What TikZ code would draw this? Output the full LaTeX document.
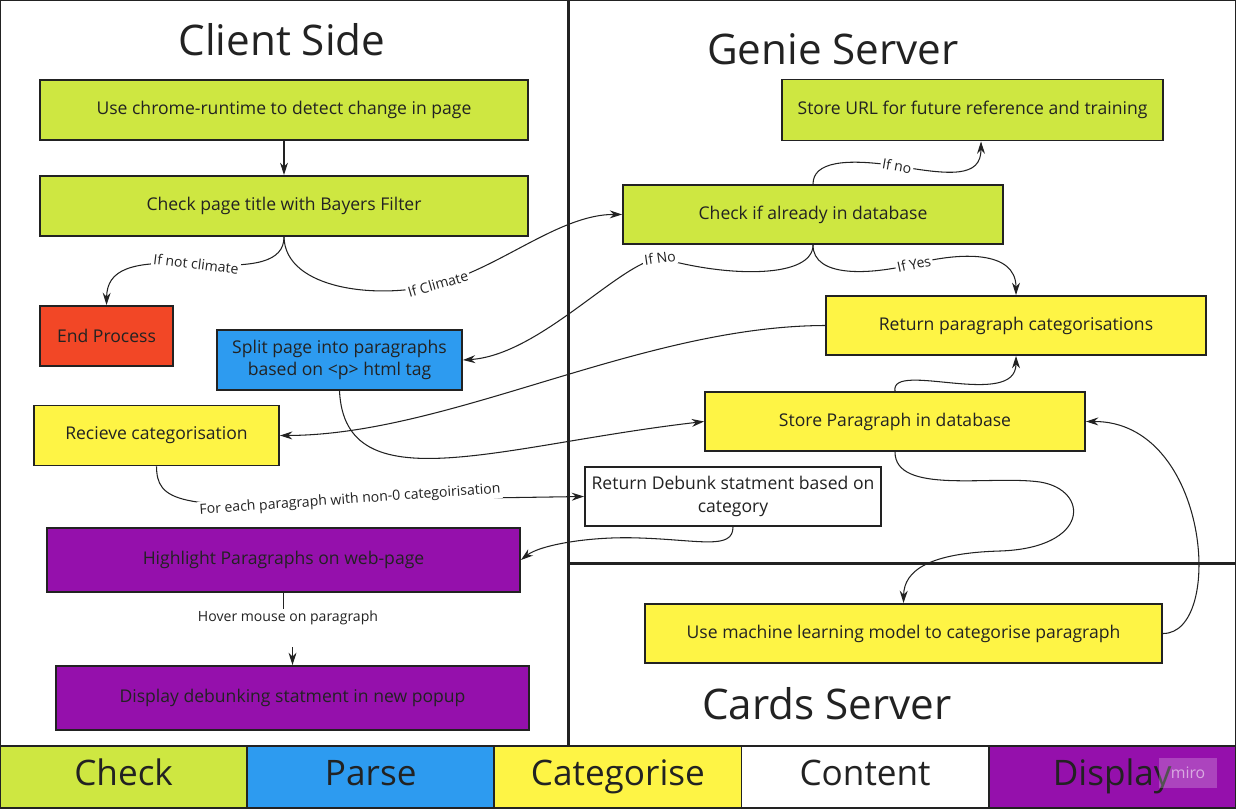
\documentclass[tikz,border=0pt]{standalone}
\usepackage{fontspec}
\setmainfont{Open Sans}
\usepackage{tikz}
\usetikzlibrary{positioning}
\usetikzlibrary{arrows.meta}

\definecolor{checkgreen}{HTML}{CEE741}
\definecolor{parseblue}{HTML}{2D9BF0}
\definecolor{catyellow}{HTML}{FEF445}
\definecolor{endred}{HTML}{F24726}
\definecolor{showpurple}{HTML}{9510AC}
\definecolor{inkdark}{HTML}{222222}

\begin{document}
\begin{tikzpicture}[
    x=0.02cm, y=-0.02cm,
    box/.style={draw=inkdark,line width=1.1pt,align=center,text=inkdark,
      minimum height=1.2cm,inner sep=2pt,font=\fontsize{10}{13}\selectfont},
    checkbox/.style={box,fill=checkgreen},
    parsebox/.style={box,fill=parseblue},
    catbox/.style={box,fill=catyellow},
    contentbox/.style={box,fill=white},
    showbox/.style={box,fill=showpurple},
    endbox/.style={box,fill=endred},
    legend/.style={draw=inkdark,line width=1.1pt,outer sep=0pt,text=inkdark,
      text height=14.5pt,text depth=4.5pt,
      minimum width=4.944cm,minimum height=1.24cm,font=\fontsize{20}{24}\selectfont},
    title/.style={text=inkdark,font=\fontsize{24}{28}\selectfont},
    lbl/.style={fill=white,inner sep=1pt,text=inkdark,font=\fontsize{8}{10}\selectfont},
    frame/.style={draw=inkdark,line width=1.7pt},
    arr/.style={-{Stealth[length=7pt,width=4.5pt]},line width=0.6pt,draw=inkdark}
    ]
    \useasboundingbox (0,0) rectangle (1236,808);

    % panels
    \draw[frame] (0,0) rectangle (1236,746);
    \draw[frame] (568,0) -- (568,746);
    \draw[frame] (568,563) -- (1236,563);

    \node[title] (client) at (282,40) {Client Side};
    \node[title] (genie) at (833,49) {Genie Server};
    \node[title] (cards) at (827,704) {Cards Server};

    % client side
    \node[checkbox, minimum width=9.76cm] (chrome) at (284,110) {Use chrome-runtime to detect change in page};
    \node[checkbox, minimum width=9.76cm, below=0.68cm of chrome] (bayes) {Check page title with Bayers Filter};
    \node[endbox, minimum width=2.66cm] (endp) at (106.5,336) {End Process};
    \node[parsebox, minimum width=4.9cm] (split) at (339.5,360) {Split page into paragraphs\\based on <p> html tag};
    \node[catbox, minimum width=4.9cm] (recv) at (156.5,435.5) {Recieve categorisation};
    \node[showbox, minimum width=9.46cm, minimum height=1.28cm] (hl) at (283.5,560) {Highlight Paragraphs on web-page};
    \node[showbox, minimum width=9.46cm, minimum height=1.28cm] (disp) at (292.5,698) {Display debunking statment in new popup};

    % genie server
    \node[checkbox, minimum width=7.62cm, minimum height=1.22cm] (url) at (972.5,110) {Store URL for future reference and training};
    \node[checkbox, minimum width=7.6cm, minimum height=1.18cm] (chkdb) at (813,214.5) {Check if already in database};
    \node[catbox, minimum width=7.6cm, minimum height=1.18cm] (ret) at (1016,325.5) {Return paragraph categorisations};
    \node[catbox, minimum width=7.6cm, minimum height=1.18cm] (para) at (895,421.5) {Store Paragraph in database};
    \node[contentbox, minimum width=5.92cm, minimum height=1.18cm] (debunk) at (733,496.5) {Return Debunk statment based on\\category};

    % cards server
    \node[catbox, minimum width=10.34cm, minimum height=1.18cm] (ml) at (903.5,633.5) {Use machine learning model to categorise paragraph};

    % legend
    \node[legend, fill=checkgreen] (lgcheck) at (123.6,777) {Check};
    \node[legend, fill=parseblue, right=0pt of lgcheck] (lgparse) {Parse};
    \node[legend, fill=catyellow, right=0pt of lgparse] (lgcat) {Categorise};
    \node[legend, fill=white, right=0pt of lgcat] (lgcontent) {Content};
    \node[legend, fill=showpurple, right=0pt of lgcontent] (lgshow) {Display};
    \node[fill=white, fill opacity=0.22, text=white, text opacity=0.55, minimum width=1.16cm,
      minimum height=0.6cm, font=\fontsize{9}{10}\selectfont] (miro) at (1188,773) {miro};

    % connectors
    \draw[arr] (chrome) -- (bayes);
    \draw[arr] (bayes.south) .. controls (284,262) and (255,268) .. (196,264)
      node[lbl, rotate=-7] {If not climate}
      .. controls (130,260) and (107,270) .. (endp.north);
    \draw[arr] (bayes.south) .. controls (285,290) and (380,300) .. (438,284)
      node[lbl, rotate=16] {If Climate}
      .. controls (500,268) and (560,214) .. (chkdb.west);
    \draw[arr] (chkdb.north) .. controls (813,162) and (845,158) .. (897,166)
      node[lbl, rotate=-10] {If no}
      .. controls (950,175) and (981,178) .. ([xshift=0.17cm]url.south);
    \draw[arr] (chkdb.south) .. controls (813,278) and (730,278) .. (660,258)
      node[lbl, rotate=8] {If No}
      .. controls (620,262) and (540,355) .. (split.east);
    \draw[arr] (chkdb.south) .. controls (813,278) and (870,275) .. (914,264)
      node[lbl, rotate=12] {If Yes}
      .. controls (960,252) and (1016,250) .. (ret.north);
    \draw[arr] (ret.west) .. controls (640,326) and (450,435) .. (recv.east);
    \draw[arr] (split.south) .. controls (345,505) and (500,445) .. (para.west);
    \draw[arr] (para.north) .. controls (890,360) and (1016,410) .. (ret.south);
    \draw[arr] (recv.south) .. controls (157,500) and (175,512) .. (350,500)
      node[lbl, rotate=4] {For each paragraph with non-0 categoirisation}
      -- (debunk.west);
    \draw[arr] (debunk.south) .. controls (733,550) and (700,540) .. (640,538)
      .. controls (590,536) and (540,545) .. (hl.east);
    \draw[arr] (para.south) .. controls (895,495) and (990,475) .. (1040,482)
      .. controls (1090,490) and (1090,548) .. (1000,551)
      .. controls (930,553) and (904,570) .. (ml.north);
    \draw[arr] (ml.east) .. controls (1225,634) and (1210,421) .. (para.east);

    \node[lbl] (hover) at (288,618) {Hover mouse on paragraph};
    \draw[line width=0.6pt, draw=inkdark] (hl.south) -- (hover.north -| hl.south);
    \draw[arr, shorten <=0.4cm] (hover.south -| disp.north) -- (disp.north);

  \end{tikzpicture}
\end{document}
